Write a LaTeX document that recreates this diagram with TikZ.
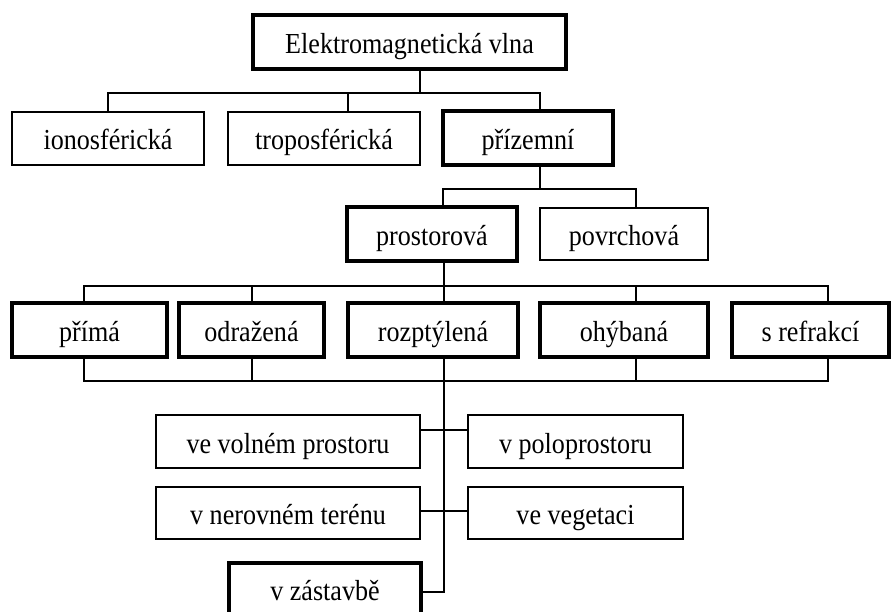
\documentclass[tikz,border=0pt]{standalone}
\usepackage{fontspec}
\setmainfont[FakeStretch=0.9]{Liberation Serif}
\begin{document}
\begin{tikzpicture}[x=1pt,y=-1pt,
  box/.style={draw, line width=1.3pt, inner sep=0pt, text height=25pt, text depth=2pt, font=\fontsize{29}{32}\selectfont},
  thickbox/.style={box, line width=3.2pt},
  conn/.style={line width=1.3pt}]
\useasboundingbox (0,0) rectangle (892,612);
\fill[white] (0,0) rectangle (892,612);
\clip (0,0) rectangle (892,612);

% level 1
\node[thickbox, minimum width=313pt, minimum height=54pt] (E) at (409.5,42) {Elektromagnetická vlna};
% level 2
\node[box, minimum width=192pt, minimum height=53pt] (ion) at (108,138.5) {ionosférická};
\node[box, minimum width=192pt, minimum height=53pt] (tro) at (324,138.5) {troposférická};
\node[thickbox, minimum width=170pt, minimum height=54pt] (pri) at (528,138) {přízemní};
% level 3
\node[thickbox, minimum width=170pt, minimum height=54pt] (pro) at (432,234) {prostorová};
\node[box, minimum width=168pt, minimum height=52pt] (pov) at (624,234) {povrchová};
% level 4
\node[thickbox, minimum width=155pt, minimum height=54pt] (prm) at (89.5,330) {přímá};
\node[thickbox, minimum width=145pt, minimum height=54pt] (odr) at (251.5,330) {odražená};
\node[thickbox, minimum width=170pt, minimum height=54pt] (roz) at (433,330) {rozptýlená};
\node[thickbox, minimum width=168pt, minimum height=54pt] (ohy) at (624,330) {ohýbaná};
\node[thickbox, minimum width=157pt, minimum height=54pt] (sre) at (810.5,330) {s refrakcí};
% level 5
\node[box, minimum width=264pt, minimum height=53pt] (vol) at (288,441.5) {ve volném prostoru};
\node[box, minimum width=215pt, minimum height=53pt] (pol) at (575.5,441.5) {v poloprostoru};
\node[box, minimum width=264pt, minimum height=52pt] (ner) at (288,513) {v nerovném terénu};
\node[box, minimum width=215pt, minimum height=52pt] (veg) at (575.5,513) {ve vegetaci};
\node[thickbox, minimum width=192pt, minimum height=52pt] (zas) at (325,589) {v zástavbě};

% junction coordinates
\coordinate (jE) at (420,93);
\coordinate (xt) at (348,0);
\coordinate (xp) at (540,0);
\coordinate (jP) at (540,189);
\coordinate (xq) at (443,0);
\coordinate (xv) at (636,0);
\coordinate (jR) at (444,286);
\coordinate (x1) at (84,0);
\coordinate (x2) at (252,0);
\coordinate (x4) at (636,0);
\coordinate (x5) at (828,0);
\coordinate (jL) at (444,381);
\coordinate (l1) at (444,430);
\coordinate (l2) at (444,511);
\coordinate (zl) at (444,592);

% connectors level 1 -> 2
\draw[conn] (E.south -| jE) -- (jE);
\draw[conn] (ion.north) |- (jE) -| (pri.north -| xp);
\draw[conn] (tro.north -| xt) -- (xt |- jE);
% level 2 -> 3
\draw[conn] (pri.south -| jP) -- (jP);
\draw[conn] (pro.north -| xq) |- (jP) -| (pov.north -| xv);
% level 3 -> 4
\draw[conn] (pro.south -| jR) -- (jR);
\draw[conn] (prm.north -| x1) |- (jR) -| (sre.north -| x5);
\draw[conn] (odr.north -| x2) -- (x2 |- jR);
\draw[conn] (ohy.north -| x4) -- (x4 |- jR);
\draw[conn] (roz.north -| jR) -- (jR);
% lower bus
\draw[conn] (prm.south -| x1) |- (jL) -| (sre.south -| x5);
\draw[conn] (odr.south -| x2) -- (x2 |- jL);
\draw[conn] (ohy.south -| x4) -- (x4 |- jL);
% rozptylena -> level 5
\draw[conn] (roz.south -| zl) -- (zl) -- (zas.east |- zl);
\draw[conn] (vol.east |- l1) -- (pol.west |- l1);
\draw[conn] (ner.east |- l2) -- (veg.west |- l2);
\end{tikzpicture}
\end{document}
